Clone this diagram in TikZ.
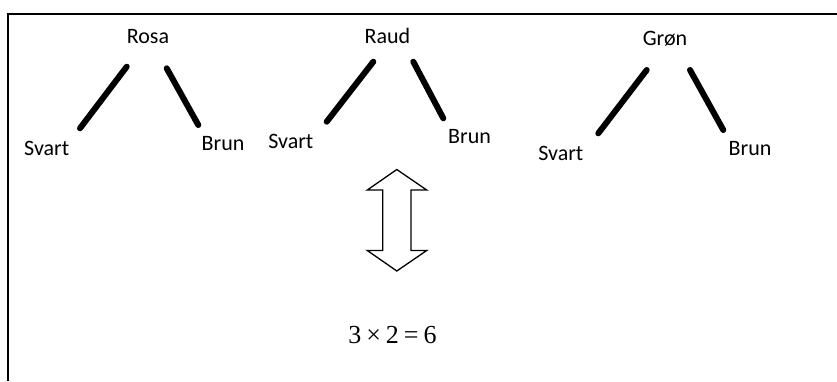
\documentclass[tikz,border=0pt]{standalone}
\usepackage{fontspec}
\setmainfont{Carlito}
\newfontfamily\eqfont{Liberation Serif}
\newcommand{\eqsp}{\hspace{5pt}}
\begin{document}
\begin{tikzpicture}[x=1pt,y=-1pt,
  lbl/.style={anchor=base,inner sep=0pt,font=\fontsize{22}{26}\selectfont},
  eqn/.style={anchor=base,inner sep=0pt,font=\eqfont\fontsize{26}{30}\selectfont},
  branch/.style={line width=6pt,line cap=round},
  frame/.style={line width=2.6pt},
  dbl/.style={line width=1.3pt,line join=miter}]
\useasboundingbox (0,0) rectangle (837,381);
% frame (top and left edges only)
\coordinate (fbl) at (7.8,381);
\coordinate (ftl) at (7.8,14);
\coordinate (ftr) at (837,14);
\draw[frame] (fbl) -- (ftl) -- (ftr);
% tree 1
\node[lbl] (rosa) at (148,43.3) {Rosa};
\node[lbl] (svart1) at (46.7,155.7) {Svart};
\node[lbl] (brun1) at (223,150) {Brun};
\coordinate (r1a) at (126.7,66.7); \coordinate (r1b) at (80,128.3);
\coordinate (r1c) at (166.7,68.3); \coordinate (r1d) at (198.3,125);
\draw[branch] (r1a) -- (r1b);
\draw[branch] (r1c) -- (r1d);
% tree 2
\node[lbl] (raud) at (387.5,43.3) {Raud};
\node[lbl] (svart2) at (290.8,148.3) {Svart};
\node[lbl] (brun2) at (469.5,143.3) {Brun};
\coordinate (r2a) at (373.3,61.7); \coordinate (r2b) at (326.7,121.7);
\coordinate (r2c) at (413.3,61.7); \coordinate (r2d) at (443.3,118.3);
\draw[branch] (r2a) -- (r2b);
\draw[branch] (r2c) -- (r2d);
% tree 3
\node[lbl] (gron) at (665,45) {Grøn};
\node[lbl] (svart3) at (560.8,160) {Svart};
\node[lbl] (brun3) at (750,155) {Brun};
\coordinate (r3a) at (646.7,70); \coordinate (r3b) at (598.3,133.3);
\coordinate (r3c) at (690,70); \coordinate (r3d) at (723.3,130);
\draw[branch] (r3a) -- (r3b);
\draw[branch] (r3c) -- (r3d);
% double arrow
\draw[dbl] (396.8,169.5) -- (426.7,190) -- (411,190) -- (411,250.5) -- (426.7,250.5)
  -- (396.8,271) -- (367.3,250.5) -- (382.7,250.5) -- (382.7,190) -- (367.3,190) -- cycle;
% equation
\node[eqn] (eq) at (392.5,343) {3\eqsp×\eqsp2\eqsp=\eqsp6};
\end{tikzpicture}
\end{document}
